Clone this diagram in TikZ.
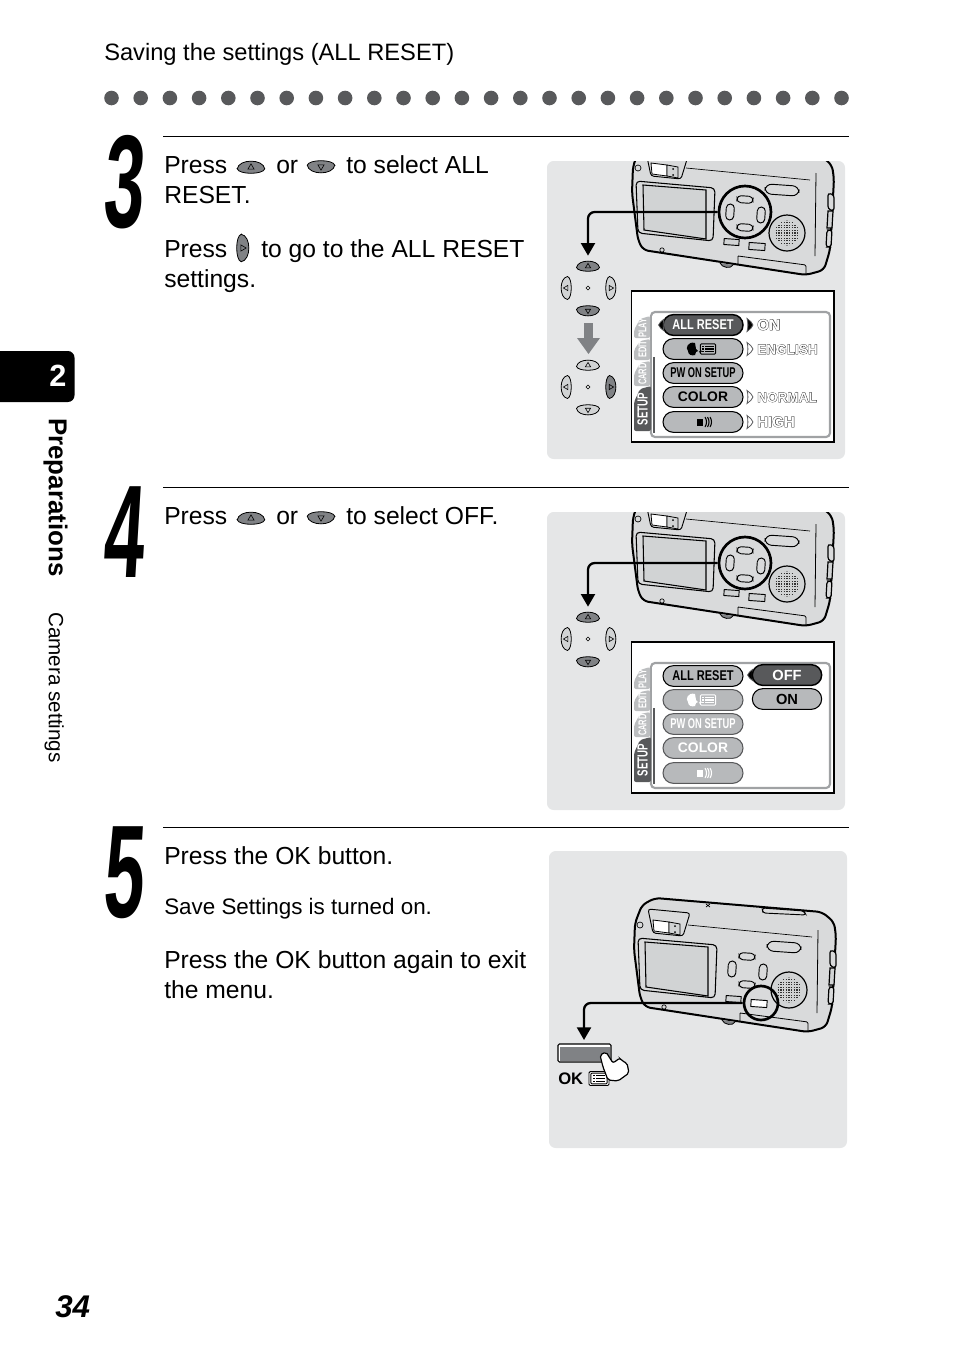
\documentclass[tikz,border=0pt]{standalone}
\usepackage{fontspec}
\setmainfont{Liberation Sans}
\newfontfamily\narrowfont[FakeStretch=0.66]{Liberation Sans}
\newfontfamily\midfont[FakeStretch=0.78]{Liberation Sans}
\newfontfamily\stepfont[FakeStretch=0.55,FakeSlant=0.06]{Liberation Sans}
\newfontfamily\heavyfont[FakeBold=4.5]{Liberation Sans}
\usetikzlibrary{arrows.meta,shapes.misc}
\definecolor{panelgray}{HTML}{E5E6E7}
\definecolor{bodygray}{HTML}{D9DADB}
\definecolor{keylight}{HTML}{D1D3D4}
\definecolor{keydark}{HTML}{808285}
\definecolor{btngray}{HTML}{B7B9BB}
\definecolor{btndark}{HTML}{58595B}
\definecolor{tablight}{HTML}{BCBEC0}
\definecolor{framegray}{HTML}{A0A2A4}
\newcommand{\hollow}[1]{\rlap{\color{black!80}\heavyfont\bfseries #1}\color{white}\bfseries #1}
\tikzset{
  bodytext/.style={inner sep=0pt,anchor=base west,font=\fontsize{18.5}{22}\selectfont},
  stepnum/.style={inner sep=0pt,anchor=base west,font=\fontsize{99}{99}\stepfont\bfseries},
  sidetext/.style={inner sep=0pt,rotate=-90,anchor=north west},
  menubtn/.style={rounded rectangle,draw=black,line width=.8pt,fill=btngray,inner sep=0pt,
    minimum width=60pt,minimum height=15.5pt},
  menubold/.style={font=\fontsize{10.4}{12}\selectfont\bfseries},
  menuthin/.style={font=\fontsize{10.6}{12}\narrowfont\bfseries},
  menumid/.style={font=\fontsize{10.6}{12}\midfont\bfseries},
  fadedbtn/.style={draw=btndark,text=white},
  selbtn/.style={fill=btndark,text=white,line width=1.1pt},
  optext/.style={inner sep=0pt,anchor=base west,font=\fontsize{10.2}{12}\selectfont},
  tabtext/.style={inner sep=0pt,rotate=90,text=white,font=\fontsize{8.5}{10}\narrowfont\bfseries},
  callout/.style={line width=1.7pt,rounded corners=5pt,shorten >=4pt,
    -{Triangle[width=10.5pt,length=9.5pt]}},
  ring/.style={circle,draw=black,line width=2pt,inner sep=0pt},
  pics/padkey/.style={code={
    \path[draw=black,line width=.6pt,fill=#1] (-11.5,1.5) .. controls (-10,-7) and (10,-7) .. (11.5,1.5)
      .. controls (10,6.5) and (-10,6.5) .. cycle;
    \draw[line width=.45pt] (0,-2.6) -- (2.6,1.8) -- (-2.6,1.8) -- cycle;
  }},
  pics/keypad/.style n args={3}{code={
    \pic at (0,-22) {padkey=#1};
    \pic at (0,23) [rotate=180] {padkey=#1};
    \pic at (-22,0) [rotate=90] {padkey=#2};
    \pic at (23,0) [rotate=-90] {padkey=#3};
    \draw[line width=.45pt] (-2,0) -- (0,-2) -- (2,0) -- (0,2) -- cycle;
    \coordinate (-top) at (0,-27);
  }},
  pics/optarrow/.style={code={
    \path[draw=btndark,line width=.6pt,fill=#1] (0,-6.5) .. controls (3,-5) and (5,-2) .. (6,0)
      .. controls (5,2) and (3,5) .. (0,6.5) .. controls (1.2,3) and (1.2,-3) .. cycle;
  }},
  pics/listicon/.style={code={
    \draw[#1,line width=.7pt,rounded corners=.8pt] (-9,-6) rectangle (9,6);
    \foreach \rowy in {-3,0,3}{
      \draw[#1,line width=.8pt] (-6.5,\rowy) -- (-4.5,\rowy) (-3,\rowy) -- (6.5,\rowy);
    }
  }},
  pics/speechicon/.style={code={
    \fill[#1] (-3,-6) .. controls (-10,-8) and (-13,-1) .. (-10,2) .. controls (-10,6) and (-6,7) .. (-3,6)
      -- (-2,3) -- (0,2) -- (-2,0) -- cycle;
    \draw[#1,line width=.7pt] (1,3) -- (4,2);
    \pic at (10,0) [scale=.85] {listicon=#1};
  }},
  pics/soundicon/.style={code={
    \fill[#1] (-6,-3.5) rectangle (0,3.5);
    \foreach \arcx in {2,4.5,7}{
      \draw[#1,line width=.8pt] (\arcx,-5) .. controls (\arcx+2,-2) and (\arcx+2,2) .. (\arcx,5);
    }
  }},
  pics/menuframe/.style={code={
    \draw[black,line width=1pt,fill=white] (631.5,291) rectangle (834,442);
    \draw[framegray,line width=1.6pt,rounded corners=3pt,fill=white] (651,312) rectangle (830,437);
    \draw[white,line width=2pt] (653.5,316) -- (653.5,433);
    \draw[btndark,line width=1.5pt] (653.5,357) -- (653.5,433);
    \fill[tablight,rounded corners=1.5pt] (650,316) -- (640,319) -- (634,330) -- (634,338) -- (650,338) -- cycle;
    \fill[tablight,rounded corners=1.5pt] (650,339) -- (640,341) -- (634,350) -- (634,360) -- (650,360) -- cycle;
    \fill[tablight,rounded corners=1.5pt] (650,361) -- (640,363) -- (634,374) -- (634,386) -- (650,386) -- cycle;
    \fill[btndark,rounded corners=1.5pt] (651,386) -- (640,389) -- (634,402) -- (634,431) -- (651,431) -- cycle;
    \node[tabtext] (-play) at (642.5,328) {PLAY};
    \node[tabtext] (-edit) at (642.5,349) {EDIT};
    \node[tabtext] (-card) at (642.5,374) {CARD};
    \node[tabtext,font=\fontsize{11}{12}\narrowfont\bfseries] (-setup) at (642.5,409) {SETUP};
  }},
  pics/camera/.style={code={
    \draw[black,line width=1.5pt,fill=bodygray,rounded corners=4pt]
      (655,898) -- (822,912) -- (834,922) -- (836,936) -- (832,1007) -- (826,1027) -- (808,1032)
      -- (645,1007) -- (640,997) -- (634,950) -- (635,923) -- (642,905) -- cycle;
    \draw[line width=.5pt] (688,925) -- (812,937);
    \draw[line width=.6pt] (818,930) -- (817,1013);
    \draw[line width=.7pt,fill=bodygray,rounded corners=2pt] (648,909) -- (690,913) -- (683,936) -- (653,933) -- cycle;
    \draw[line width=.6pt,fill=white] (653,920) -- (669,922) -- (669,933) -- (654,931) -- cycle;
    \draw[line width=.6pt,fill=keylight] (669,922) -- (680,924) -- (680,935) -- (669,933) -- cycle;
    \fill (675,926) circle [radius=1] (675,932) circle [radius=1];
    \draw[line width=.8pt,fill=bodygray,rounded corners=3pt] (638,938) -- (717,945) -- (715,998) -- (640,990) -- cycle;
    \draw[line width=.8pt,fill=keylight] (645,942) -- (708,947) -- (708,996) -- (646,987) -- cycle;
    \draw[line width=.7pt,fill=bodygray,rounded corners=5pt,rotate around={-4:(784,947)}] (767,942) rectangle (801,952);
    \draw[line width=.7pt,fill=bodygray,rounded corners=3pt,rotate around={-4:(747,956)}] (739,953) rectangle (755,960);
    \draw[line width=.7pt,fill=bodygray,rounded corners=3pt,rotate around={-4:(747,984)}] (739,981) rectangle (755,988);
    \draw[line width=.7pt,fill=bodygray,rounded corners=3pt,rotate around={-4:(732,969)}] (728,961) rectangle (736,977);
    \draw[line width=.7pt,fill=bodygray,rounded corners=3pt,rotate around={-4:(763,972)}] (759,964) rectangle (767,980);
    \draw[line width=.9pt,fill=keylight] (789,990) circle [radius=18];
    \begin{scope}
      \clip (789,990) circle [radius=12.5];
      \foreach \rowy in {0,...,10}{
        \draw[black!80,line width=1pt,dash pattern=on 1pt off 1pt] (775,977+\rowy*2.6) -- (803,977+\rowy*2.6);
      }
    \end{scope}
    \draw[line width=.7pt,fill=keylight,rotate around={-4:(733,999)}] (726,996) rectangle (741,1002);
    \draw[line width=.7pt,fill=#1,rotate around={-4:(759,1003)}] (751,1000) rectangle (767,1007);
    \draw[line width=.6pt,rounded corners=1pt] (740,1013) -- (808,1022) -- (808,1031) (740,1013) -- (740,1021);
    \draw[line width=.6pt,fill=keydark] (722,1020) .. controls (724,1025) and (733,1026) .. (735,1022);
    \draw[line width=.5pt] (664,1007) circle [radius=2.2];
    \draw[line width=.5pt] (640,925) circle [radius=3];
    \draw[line width=.7pt,fill=bodygray,rounded corners=2pt] (762,908) -- (804,911) -- (806,915) -- (763,913) -- cycle;
    \draw[line width=.5pt] (706,904) -- (710,907) (710,904) -- (706,907);
    \draw[line width=.9pt,fill=bodygray,rounded corners=2pt] (830,950) -- (836,952) -- (836,968) -- (830,966) -- cycle;
    \draw[line width=.9pt,fill=keylight] (830,968) -- (835,968) -- (834,985) -- (829,985) -- cycle;
    \draw[line width=.9pt,fill=bodygray,rounded corners=2pt] (829,987) -- (834,987) -- (833,1004) -- (828,1004) -- cycle;
  }},
}
\begin{document}
\begin{tikzpicture}[x=.75pt,y=-.75pt]
  \useasboundingbox (0,0) rectangle (954,1357);
  \node[inner sep=0pt,anchor=base west,font=\fontsize{17.75}{22}\selectfont] (pagehead) at (104,60) {Saving the settings (ALL RESET)};
  \foreach \dotnum in {0,...,25}{
    \fill[btndark] (111.5+\dotnum*29.2,98) circle [radius=7.3];
  }
  \fill[black] (0,351) [rounded corners=5pt] -- (74.5,351) -- (74.5,402) [sharp corners] -- (0,402) -- cycle;
  \node[inner sep=0pt,text=white,font=\fontsize{23}{26}\selectfont\bfseries] (chapnum) at (58,376) {2};
  \node[sidetext,font=\fontsize{19.4}{22}\selectfont\bfseries] (chapname) at (68,418) {Preparations};
  \node[sidetext,font=\fontsize{15.5}{18}\selectfont] (chapsub) at (64,612) {Camera settings};
  \node[inner sep=0pt,anchor=base west,font=\fontsize{23.5}{28}\selectfont\bfseries\itshape] (pagenum) at (55,1317) {34};

  \draw[line width=1pt] (163,136.5) -- (849,136.5);
  \draw[line width=1pt] (163,487.5) -- (849,487.5);
  \draw[line width=1pt] (163,827.5) -- (849,827.5);
  \node[stepnum] (stepthree) at (102,227) {3};
  \node[stepnum] (stepfour) at (102,577) {4};
  \node[stepnum] (stepfive) at (102,917) {5};

  \node[bodytext] (pressa) at (164,173) {Press};
  \pic at (251,167) [scale=1.2] {padkey=keydark};
  \node[bodytext] (ora) at (276,173) {or};
  \pic at (321,167) [scale=1.2,rotate=180] {padkey=keydark};
  \node[bodytext] (selecta) at (346,173) {to select ALL};
  \node[bodytext] (reset) at (164,203) {RESET.};
  \node[bodytext] (pressb) at (164,257) {Press};
  \pic at (243,248) [scale=1.2,rotate=-90] {padkey=keydark};
  \node[bodytext] (goto) at (261,257) {to go to the ALL RESET};
  \node[bodytext] (settings) at (164,287) {settings.};

  \node[bodytext] (pressc) at (164,524) {Press};
  \pic at (251,518) [scale=1.2] {padkey=keydark};
  \node[bodytext] (orc) at (276,524) {or};
  \pic at (321,518) [scale=1.2,rotate=180] {padkey=keydark};
  \node[bodytext] (selectc) at (346,524) {to select OFF.};

  \node[bodytext] (okpress) at (164,864) {Press the OK button.};
  \node[bodytext,font=\fontsize{16.8}{20}\selectfont] (oksave) at (164,914) {Save Settings is turned on.};
  \node[bodytext] (okagain) at (164,968) {Press the OK button again to exit};
  \node[bodytext] (okmenu) at (164,998) {the menu.};

  \fill[panelgray,rounded corners=5pt] (547,161) rectangle (845,459);
  \fill[panelgray,rounded corners=5pt] (547,512) rectangle (845,810);
  \fill[panelgray,rounded corners=5pt] (549,851) rectangle (847,1148);

  \begin{scope}
    \clip (547,161) rectangle (845,459);
    \pic at (-2,-757) {camera=keylight};
  \end{scope}
  \node[ring,minimum size=39pt] (ringa) at (745,212) {};
  \pic (pada) at (588,288) {keypad={keydark}{keylight}{keylight}};
  \draw[callout] (ringa.west) -| (pada-top);
  \fill[keydark] (584,323) rectangle (593,338);
  \fill[keydark] (577,338) -- (600,338) -- (588.5,354) -- cycle;
  \pic (padb) at (588,387) {keypad={keylight}{keylight}{keydark}};
  \pic at (0,0) {menuframe};
  \node[menubtn,selbtn,menumid] (allreset) at (703,325) {ALL RESET};
  \node[menubtn] (language) at (703,349) {};
  \pic at (698,349) {speechicon=black};
  \node[menubtn,menuthin] (pwsetup) at (703,373) {PW ON SETUP};
  \node[menubtn,menubold] (colour) at (703,397) {COLOR};
  \node[menubtn] (sound) at (703,422) {};
  \pic at (703,422) {soundicon=black};
  \pic at (664,325) [xscale=-1,scale=.9] {optarrow=black};
  \pic at (747,325) {optarrow=black};
  \pic at (747,349) {optarrow=white};
  \pic at (747,397) {optarrow=white};
  \pic at (747,422) {optarrow=white};
  \node[optext,font=\fontsize{11.5}{12}\selectfont] (opton) at (757,330) {\hollow{ON}};
  \node[optext] (optlang) at (757,354) {\hollow{ENGLISH}};
  \node[optext] (optcolour) at (757,402) {\hollow{NORMAL}};
  \node[optext,font=\fontsize{11.3}{12}\selectfont] (optsound) at (757,427) {\hollow{HIGH}};

  \begin{scope}
    \clip (547,512) rectangle (845,810);
    \pic at (-2,-406) {camera=keylight};
  \end{scope}
  \node[ring,minimum size=39pt] (ringb) at (745,563) {};
  \pic (padc) at (588,639) {keypad={keydark}{keylight}{keylight}};
  \draw[callout] (ringb.west) -| (padc-top);
  \pic at (0,351) {menuframe};
  \node[menubtn,menumid] (allresetb) at (703,676) {ALL RESET};
  \node[menubtn,fadedbtn] (languageb) at (703,700) {};
  \pic at (698,700) {speechicon=white};
  \node[menubtn,fadedbtn,menuthin] (pwsetupb) at (703,724) {PW ON SETUP};
  \node[menubtn,fadedbtn,menubold] (colourb) at (703,748) {COLOR};
  \node[menubtn,fadedbtn] (soundb) at (703,773) {};
  \pic at (703,773) {soundicon=white};
  \pic at (753,675) [xscale=-1,scale=.9] {optarrow=black};
  \node[menubtn,selbtn,menubold,minimum width=52pt,font=\fontsize{11}{12}\selectfont\bfseries] (optoff) at (787,675) {OFF};
  \node[menubtn,menubold,minimum width=52pt,font=\fontsize{11}{12}\selectfont\bfseries] (optonb) at (787,699) {ON};

  \pic at (0,0) {camera=white};
  \node[ring,minimum size=25.5pt] (ringc) at (761,1003) {};
  \fill[white,draw=black,line width=.8pt,rounded corners=1pt] (558,1044) rectangle (611,1062);
  \fill[keydark] (559.5,1046.5) rectangle (609.5,1061);
  \coordinate (oktop) at (584,1040);
  \draw[callout,shorten >=0pt] (ringc.west) -| (oktop);
  \node[inner sep=0pt,anchor=base west,font=\fontsize{12.5}{15}\selectfont\bfseries] (oklabel) at (558,1084) {OK};
  \draw[black,fill=white,line width=.7pt,rounded corners=1pt] (589,1071.5) rectangle (609,1085.5);
  \pic at (599,1078.5) [scale=.9] {listicon=black};
  \path[draw=black,line width=.9pt,fill=white,rounded corners=1.5pt]
    (600,1055) -- (606,1052) -- (613,1063) -- (620,1058) -- (622,1061) -- (627,1063) -- (629,1073)
    -- (618,1081) -- (608,1080) -- (603,1067) -- cycle;
\end{tikzpicture}
\end{document}
